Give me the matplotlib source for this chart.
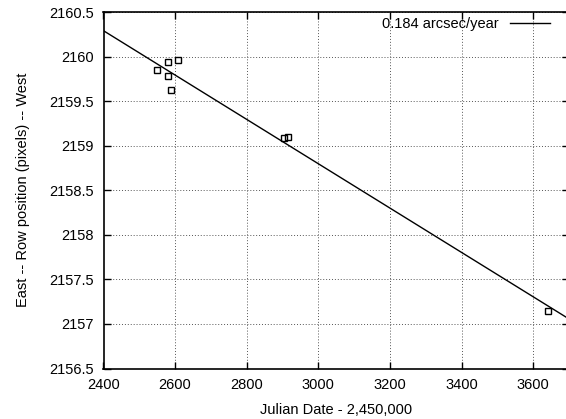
import matplotlib
matplotlib.use("Agg")
import matplotlib.pyplot as plt
import numpy as np

plt.rcParams['font.family'] = ['Liberation Sans', 'DejaVu Sans']

# Measured positions: Julian Date - 2,450,000 and row position (pixels)
jd = [2549, 2581, 2609, 2581, 2589, 2904.5, 2915.7, 3640.5]
row = [2159.85, 2159.94, 2159.96, 2159.78, 2159.62, 2159.086, 2159.094, 2157.15]

# Proper-motion fit
rate_arcsec_per_year = 0.184
plate_scale = 0.2025          # arcsec per pixel
fit_x0 = 2400.0
fit_y0 = 2160.29
slope = -rate_arcsec_per_year / plate_scale / 365.25   # pixels per day

xlim = (2400, 3700)
ylim = (2156.5, 2160.5)
xticks = [2400, 2600, 2800, 3000, 3200, 3400, 3600]
yticks = [2156.5, 2157, 2157.5, 2158, 2158.5, 2159, 2159.5, 2160, 2160.5]

fig = plt.figure(figsize=(5.66, 4.19), dpi=100)
W, H = 566, 419
left, right, top, bottom = 103.5, 569, 12, 368.5
ax = fig.add_axes([left / W, 1 - bottom / H, (right - left) / W, (bottom - top) / H])

fx = np.array(xlim, dtype=float)
fy = fit_y0 + slope * (fx - fit_x0)
fit_line, = ax.plot(fx, fy, color='black', lw=1.0,
                    label=f'{rate_arcsec_per_year} arcsec/year')
ax.plot(jd, row, linestyle='none', marker='s', markersize=4.3,
        markerfacecolor='none', markeredgecolor='black', markeredgewidth=1.0)

ax.set_xlim(*xlim)
ax.set_ylim(*ylim)
ax.set_xticks(xticks)
ax.set_yticks(yticks)
ax.set_yticklabels([f'{v:g}' for v in yticks])
ax.grid(True, linestyle=(0, (1, 2)), color='#555555', lw=0.7)
ax.tick_params(direction='in', length=5, width=1, top=True, right=True,
               labelsize=10.5, pad=7)
for s in ax.spines.values():
    s.set_linewidth(1.2)

ax.set_xlabel('Julian Date - 2,450,000', fontsize=10.5, labelpad=8)
ax.set_ylabel('East -- Row position (pixels) -- West', fontsize=10.5, labelpad=14)

ax.legend(handles=[fit_line], loc='center right', bbox_to_anchor=(0.959, 0.966),
          borderaxespad=0, borderpad=0, frameon=False, markerfirst=False,
          handlelength=2.75, handletextpad=0.8, fontsize=10.5)

fig.savefig('out.png', dpi=100)
